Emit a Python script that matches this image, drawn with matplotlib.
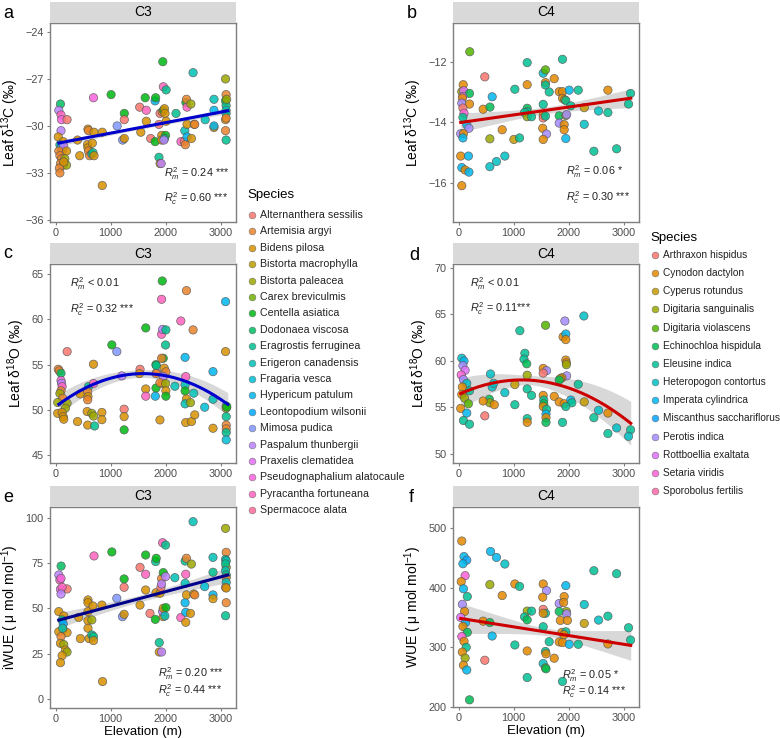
import numpy as np
import matplotlib
matplotlib.use("Agg")
import matplotlib.pyplot as plt
from matplotlib.patches import Rectangle

plt.rcParams['font.family'] = ['Liberation Sans', 'DejaVu Sans']
plt.rcParams['mathtext.fontset'] = 'custom'
plt.rcParams['mathtext.rm'] = 'Liberation Sans'
plt.rcParams['mathtext.it'] = 'Liberation Sans:italic'

# ---------------- species ----------------
species_c3 = ["Alternanthera sessilis", "Artemisia argyi", "Bidens pilosa", "Bistorta macrophylla",
              "Bistorta paleacea", "Carex breviculmis", "Centella asiatica", "Dodonaea viscosa",
              "Eragrostis ferruginea", "Erigeron canadensis", "Fragaria vesca", "Hypericum patulum",
              "Leontopodium wilsonii", "Mimosa pudica", "Paspalum thunbergii", "Praxelis clematidea",
              "Pseudognaphalium alatocaule", "Pyracantha fortuneana", "Spermacoce alata"]
species_c4 = ["Arthraxon hispidus", "Cynodon dactylon", "Cyperus rotundus", "Digitaria sanguinalis",
              "Digitaria violascens", "Echinochloa hispidula", "Eleusine indica", "Heteropogon contortus",
              "Imperata cylindrica", "Miscanthus sacchariflorus", "Perotis indica", "Rottboellia exaltata",
              "Setaria viridis", "Sporobolus fertilis"]

# ---------------- panel a: C3 leaf d13C ----------------
elev_a = [90, 60, 100, 110, 210, 100, 50, 140, 80, 100, 120, 150, 60, 200, 80, 110, 170, 90, 140, 200, 70, 80, 150,
          440, 400, 590, 600, 580, 590, 600, 620, 660, 680, 700, 670, 690, 700, 850, 850, 1010, 1120, 1220, 1250,
          1250, 1250, 1530, 1550, 1630, 1650, 1650, 1730, 1810, 1810, 1820, 1880, 1900, 1920, 1880, 1900, 1940,
          1930, 1930, 1950, 1960, 1960, 1980, 1990, 2000, 1980, 2010, 2010, 1970, 2190, 2280, 2340, 2350, 2360,
          2370, 2380, 2390, 2390, 2390, 2460, 2470, 2500, 2520, 2530, 2720, 2880, 2880, 2880, 2880, 3090, 3100,
          3090, 3100, 3100, 3100, 3090, 3100, 3090, 3100, 3110]
val_a = [-28.6, -29.0, -29.3, -29.6, -29.6, -30.3, -30.7, -31.0, -31.2, -31.4, -31.6, -31.3, -31.6, -31.6, -31.9,
         -32.1, -32.1, -32.4, -32.5, -32.5, -32.7, -33.0, -32.3, -31.9, -30.9, -30.2, -30.3, -31.2, -31.4, -31.6,
         -31.9, -31.8, -31.7, -31.9, -31.1, -28.2, -30.4, -30.4, -33.8, -28.0, -30.0, -30.9, -29.2, -29.6, -30.8,
         -28.8, -30.4, -28.2, -29.0, -29.7, -30.8, -31.0, -28.4, -28.2, -32.0, -32.4, -32.4, -29.9, -29.2, -29.1,
         -30.6, -30.9, -25.9, -27.5, -29.0, -28.9, -29.2, -30.6, -30.8, -27.7, -29.7, -30.9, -29.2, -31.0, -31.0,
         -30.3, -31.2, -28.5, -28.3, -29.9, -30.7, -28.8, -28.6, -30.8, -26.6, -29.9, -29.9, -29.6, -28.3, -29.0,
         -30.1, -30.0, -27.0, -28.0, -28.4, -28.7, -29.0, -29.2, -29.6, -29.5, -30.3, -30.9, -28.3]
sp_a = [7, 14, 17, 16, 0, 14, 2, 2, 8, 12, 1, 14, 1, 2, 1, 1, 4, 1, 1, 4, 1, 1, 2,
        2, 2, 2, 1, 2, 2, 1, 1, 8, 8, 2, 2, 16, 2, 2, 2, 6, 13, 13, 6,
        0, 2, 0, 2, 6, 17, 2, 0, 6, 11, 6, 8, 2, 14, 0, 0, 1,
        2, 2, 6, 17, 6, 2, 2, 6, 8, 8, 2, 14, 8, 17, 0, 9, 1,
        6, 1, 2, 11, 17, 4, 2, 9, 2, 1, 9, 9, 11, 2, 11, 4, 1,
        6, 8, 9, 8, 2, 1, 1, 8, 4]

# ---------------- panel b: C4 leaf d13C ----------------
elev_b = [205, 85, 60, 95, 200, 80, 70, 60, 200, 80, 100, 80, 150, 190, 40, 90, 80, 40, 180, 60, 120, 190, 60,
          478, 612, 448, 572, 794, 570, 842, 690, 570, 1024, 1006, 1109, 1248, 1248, 1248, 1248, 1200, 1248, 1327,
          1539, 1580, 1580, 1580, 1648, 1739, 1539, 1539, 1539, 1580, 1530, 1600, 1539, 1830, 1890, 1890, 1930,
          1950, 1890, 2012, 2176, 2040, 1830, 1830, 1920, 1920, 1950, 1965, 1950, 2285, 2285, 2545, 2715, 2715,
          2460, 2873, 3127, 3090]
val_b = [-11.67, -12.76, -12.99, -12.96, -13.05, -13.15, -13.2, -13.37, -13.4, -13.53, -13.7, -13.84, -14.08, -14.2,
         -14.38, -14.38, -14.52, -15.12, -15.12, -15.5, -15.58, -15.65, -16.1, -12.5, -13.16, -13.57, -13.5, -14.25,
         -14.55, -15.12, -15.3, -15.47, -12.91, -14.57, -14.52, -12.03, -12.76, -13.54, -13.65, -13.68, -13.82,
         -13.82, -12.38, -12.27, -12.69, -12.77, -13.0, -12.56, -13.41, -13.77, -13.86, -13.8, -14.2, -14.39,
         -14.57, -12.99, -12.99, -13.21, -13.26, -13.28, -11.92, -12.94, -12.94, -13.46, -13.79, -14.03, -14.08,
         -14.25, -13.78, -13.75, -14.54, -13.52, -14.07, -13.63, -12.94, -13.68, -14.96, -14.88, -13.05, -13.4]
sp_b = [4, 1, 3, 11, 5, 11, 1, 10, 1, 0, 12, 6, 8, 10, 10, 1, 8, 1, 8, 8, 1, 8, 1,
        0, 8, 1, 5, 1, 3, 7, 7, 7, 6, 2, 6, 6, 1, 5, 6, 6, 3, 6,
        7, 4, 1, 6, 6, 1, 6, 1, 0, 6, 1, 10, 1, 1, 1, 1, 1,
        6, 6, 8, 6, 6, 5, 10, 1, 1, 3, 10, 8, 2, 7, 7, 1, 6,
        6, 6, 6, 6]

# ---------------- panel c: C3 leaf d18O ----------------
elev_c = [211, 50, 70, 100, 100, 110, 120, 100, 80, 130, 40, 210, 180, 40, 120, 140, 150, 400, 450, 600, 585, 590,
          585, 575, 585, 690, 690, 660, 690, 710, 843, 843, 1024, 1114, 1205, 1247, 1247, 1247, 1536, 1525, 1640,
          1640, 1640, 1838, 1826, 1826, 1814, 1826, 1830, 1898, 1940, 1928, 1928, 1946, 1958, 1928, 1976, 2006,
          1940, 1958, 1898, 2006, 2000, 2000, 2006, 2006, 2169, 2277, 2355, 2367, 2355, 2355, 2380, 2355, 2367,
          2380, 2452, 2470, 2500, 2512, 2530, 2711, 2862, 2862, 2862, 3090, 3090, 3102, 3102, 3114, 3102, 3102,
          3102, 3102, 3102]
val_c = [56.44, 54.48, 54.3, 54.04, 53.23, 52.93, 52.56, 52.1, 51.8, 51.27, 50.8, 50.72, 50.17, 49.6, 49.7, 49.24,
         48.95, 48.69, 51.75, 52.56, 52.0, 51.45, 51.1, 49.8, 48.3, 55.04, 52.9, 49.6, 49.3, 48.2, 49.7, 48.9, 57.18,
         56.44, 53.75, 50.06, 49.24, 47.77, 54.48, 54.0, 52.3, 51.5, 59.06, 54.1, 54.0, 52.4, 51.5, 55.0, 54.9,
         48.87, 64.26, 62.23, 58.36, 58.9, 55.7, 55.7, 54.6, 54.2, 52.9, 53.67, 53.0, 58.84, 57.17, 52.9, 52.1,
         51.5, 52.6, 59.83, 55.8, 53.67, 52.75, 52.08, 51.2, 50.65, 48.58, 63.19, 50.79, 48.69, 58.84, 51.83, 49.43,
         50.28, 51.16, 54.22, 47.95, 61.97, 56.44, 50.42, 50.17, 50.3, 49.24, 48.3, 47.88, 47.47, 46.66]
sp_c = [0, 1, 1, 7, 16, 14, 17, 1, 4, 1, 4, 4, 4, 2, 2, 2, 2, 2, 2, 8, 1, 2,
        1, 2, 2, 2, 17, 4, 4, 8, 2, 2, 6, 13, 14, 0, 2, 6, 0, 2, 2,
        17, 6, 0, 1, 6, 11, 6, 8, 2, 6, 17, 17, 14, 6, 1, 2, 1,
        2, 14, 1, 8, 8, 4, 2, 6, 9, 17, 11, 17, 9, 6, 2, 9, 2,
        1, 4, 2, 1, 9, 2, 10, 9, 11, 2, 11, 2, 8, 4, 6, 8, 1,
        1, 8, 10]

# ---------------- panel d: C4 leaf d18O ----------------
elev_d = [60, 100, 80, 120, 50, 90, 150, 70, 200, 60, 110, 180, 40, 150, 90, 200,
          2278, 1933, 1582, 1115, 1900, 1950, 1950, 1206, 1190, 1240, 1950, 1960, 1960, 1539, 1600, 1539, 1248,
          1965, 1880, 1850, 1830, 582, 612, 640, 1024, 842, 1248, 1327, 1024, 560, 570, 650, 448, 478, 1539, 1550,
          1550, 1540, 1600, 1590, 1590, 1590, 1739, 1830, 1920, 2040, 2060, 1950, 1248, 1248, 1890, 2176, 2285,
          2545, 2715, 2460, 2715, 2873, 3127, 3090]
val_d = [60.3, 60.0, 59.5, 59.0, 58.5, 58.0, 57.6, 57.2, 56.8, 56.4, 56.0, 55.4, 54.9, 54.4, 53.6, 53.2,
         64.84, 64.3, 63.84, 63.26, 62.6, 62.9, 62.3, 60.83, 60.2, 59.7, 60.1, 59.8, 59.6, 59.2, 58.96, 58.7, 58.47,
         58.4, 58.2, 58.1, 57.95, 58.6, 57.2, 57.6, 57.46, 56.6, 57.0, 56.3, 55.3, 55.9, 55.5, 55.3, 55.7, 54.1,
         56.3, 55.8, 55.4, 55.1, 54.8, 54.3, 53.9, 53.4, 56.2, 55.6, 55.4, 55.8, 55.5, 55.1, 53.8, 53.4, 53.4,
         57.5, 55.6, 54.7, 54.4, 53.9, 52.2, 52.8, 52.6, 51.9]
sp_d = [7, 8, 10, 11, 12, 10, 7, 1, 6, 1, 3, 4, 1, 8, 6, 6,
        7, 10, 4, 6, 1, 8, 1, 6, 6, 5, 1, 1, 3, 1, 10, 0, 3,
        10, 1, 2, 5, 7, 7, 7, 2, 7, 6, 6, 6, 5, 3, 1, 1, 0, 1, 6,
        5, 1, 6, 8, 1, 5, 1, 1, 1, 8, 6, 6, 6, 1, 6, 6, 2,
        7, 1, 6, 6, 7, 6, 7]

# ---------------- panel e: C3 iWUE ----------------
elev_e = [102, 60, 80, 100, 211, 90, 120, 100, 60, 150, 120, 140, 140, 60, 210, 100, 90, 150, 180, 210, 120, 90,
          130, 422, 452, 590, 590, 590, 590, 590, 610, 680, 660, 660, 690, 690, 700, 843, 855, 1024, 1114, 1217,
          1247, 1247, 1247, 1536, 1536, 1638, 1638, 1638, 1717, 1820, 1830, 1826, 1814, 1885, 1885, 1928, 1898,
          1916, 1928, 1928, 1946, 1958, 1958, 1946, 1958, 2000, 2006, 1988, 2000, 2169, 2277, 2355, 2380, 2367,
          2355, 2355, 2367, 2367, 2380, 2470, 2452, 2500, 2512, 2530, 2711, 2862, 2862, 2862, 2862, 3090, 3102,
          3090, 3102, 3102, 3090, 3090, 3102, 3102, 3102, 3090, 3102, 3102, 3090]
val_e = [73.3, 68.4, 65.6, 66.5, 60.7, 60.5, 61.6, 57.9, 48.2, 45.8, 43.6, 41.4, 38.4, 37.1, 36.6, 34.4, 30.7, 30.0,
         27.0, 25.9, 23.9, 20.0, 39.0, 45.0, 33.3, 54.6, 53.1, 48.2, 43.2, 39.0, 33.3, 51.3, 43.6, 35.3, 34.4, 32.2,
         78.9, 51.8, 9.6, 81.1, 55.5, 45.4, 66.2, 61.6, 46.7, 72.6, 51.8, 79.4, 68.8, 60.1, 47.2, 75.8, 77.6, 58.6,
         43.9, 31.1, 25.9, 25.9, 58.3, 61.6, 66.4, 63.4, 86.2, 69.7, 45.4, 48.2, 50.0, 84.9, 50.4, 45.8, 67.5, 66.9,
         44.9, 76.1, 77.6, 68.8, 63.8, 53.1, 47.8, 42.3, 57.4, 74.4, 47.2, 97.8, 57.9, 57.4, 62.0, 78.1, 69.9, 57.4,
         55.3, 94.1, 80.9, 77.0, 76.2, 72.6, 74.5, 70.8, 68.4, 66.9, 64.3, 61.6, 61.2, 53.1, 45.9]
sp_e = [7, 14, 17, 16, 0, 16, 17, 14, 2, 2, 8, 12, 2, 2, 2, 1, 2, 4, 2, 4, 2, 2,
        9, 2, 2, 2, 2, 2, 2, 2, 2, 2, 4, 8, 8, 2, 17, 2, 2, 6, 13, 13,
        6, 0, 2, 0, 2, 6, 17, 2, 0, 8, 6, 2, 6, 8, 2, 14, 2,
        0, 1, 14, 17, 6, 2, 14, 2, 8, 6, 9, 14, 9, 17, 8, 1, 17,
        9, 11, 11, 2, 2, 4, 2, 9, 2, 1, 10, 9, 8, 11, 2, 4, 1,
        8, 9, 4, 8, 9, 8, 1, 9, 1, 2, 1, 8]

# ---------------- panel f: C4 WUE ----------------
elev_f = [60, 100, 150, 80, 120, 50, 90, 160, 70, 110, 40, 130, 80, 160, 60, 100, 140, 70, 120, 90, 150, 200,
          582, 690, 842, 570, 794, 448, 570, 612, 478, 1024, 1109, 1024, 1248, 1327, 1200, 1248, 1248, 1248, 1539,
          1600, 1530, 1539, 1580, 1539, 1539, 1580, 1590, 1539, 1580, 1590, 1648, 1739, 1830, 1950, 1920, 1910,
          1960, 1830, 1965, 1850, 1980, 1880, 1950, 1915, 1830, 1890, 2012, 2176, 2285, 2285, 2460, 2873, 2545,
          2715, 2715, 3090, 3127, 1890]
val_f = [478, 452, 446, 440, 420, 410, 398, 385, 372, 360, 350, 342, 335, 325, 318, 310, 300, 292, 282, 270, 262,
         212, 460.5, 450.5, 439.5, 405, 386.7, 343.8, 341.5, 318.9, 278.3, 406.1, 402, 303.9, 360.6, 360.6, 351,
         346, 293.9, 249.4, 406.1, 395, 383.9, 363.5, 357, 357, 334.4, 293, 289, 272.8, 265.6, 264, 309.4, 281.7,
         373.3, 403.3, 385, 375, 360, 360, 356, 345, 345, 325, 326, 321, 309, 308, 305, 305, 371.7, 340, 428.3,
         423.3, 345.6, 352.2, 305.6, 332.8, 312.2, 242.8]
sp_f = [1, 8, 9, 8, 12, 1, 8, 6, 10, 1, 11, 8, 1, 5, 12, 1, 6, 1, 3, 1, 8, 5,
        8, 8, 7, 3, 1, 1, 5, 8, 0, 1, 6, 6, 3, 6, 6, 5, 1, 6, 1,
        10, 1, 0, 6, 1, 6, 6, 1, 7, 4, 5, 6, 1, 10, 8, 1, 1,
        3, 5, 10, 1, 1, 1, 6, 1, 1, 1, 8, 6, 7, 2, 6, 6, 7,
        6, 1, 6, 6, 6]

# ---------------- fitted model curves (coefficients of mixed model fits) ----------------
# y = c0 + c1*x + c2*x^2 ; band half-width = sqrt(s0 + s1*(x - xc)^2)
fit_a = dict(c=(-31.13, 6.7e-4, 0.0), band=(0.012, 1.0e-8, 1600), col='#0000CC')
fit_b = dict(c=(-14.02, 2.6e-4, 0.0), band=(0.012, 3.6e-8, 1600), col='#CC0000')
fit_c = dict(c=(50.33, 4.603e-3, -1.443e-6), band=(0.18, 5.5e-7, 1500), col='#0000CC')
fit_d = dict(c=(56.39, 2.737e-3, -1.19e-6), band=(0.25, 1.6e-6, 1300), col='#CC0000')
fit_e = dict(c=(43.0, 8.1e-3, 0.0), band=(3.5, 6.0e-6, 1600), col='#00008B')
fit_f = dict(c=(348.9, -1.46e-2, 0.0), band=(40.0, 2.5e-4, 1600), col='#CC0000')
fit_range_c3 = (60, 3130)
fit_range_c4 = (40, 3130)

# ---------------- helpers ----------------
def hcl_to_rgb(h, c=100.0, l=65.0):
    hr = np.deg2rad(h)
    u = c * np.cos(hr)
    v = c * np.sin(hr)
    Xn, Yn, Zn = 95.047, 100.0, 108.883
    Y = Yn * ((l + 16) / 116) ** 3
    den = Xn + 15 * Yn + 3 * Zn
    un, vn = 4 * Xn / den, 9 * Yn / den
    up = u / (13 * l) + un
    vp = v / (13 * l) + vn
    X = 9 * Y * up / (4 * vp)
    Z = Y * (12 - 3 * up - 20 * vp) / (4 * vp)
    X, Y, Z = X / 100, Y / 100, Z / 100
    rgb = [3.2404542 * X - 1.5371385 * Y - 0.4985314 * Z,
           -0.9692660 * X + 1.8760108 * Y + 0.0415560 * Z,
           0.0556434 * X - 0.2040259 * Y + 1.0572252 * Z]
    out = []
    for ch in rgb:
        ch = 12.92 * ch if ch <= 0.0031308 else 1.055 * ch ** (1 / 2.4) - 0.055
        out.append(min(max(ch, 0), 1))
    return tuple(out)

def hue_pal(n):
    hs = np.linspace(15, 375, n + 1)[:-1]
    return [hcl_to_rgb(h) for h in hs]

pal_c3 = hue_pal(len(species_c3))
pal_c4 = hue_pal(len(species_c4))

W, H = 780, 738
fig = plt.figure(figsize=(W / 100, H / 100), dpi=100)

def add_ax(l, t, r, b):
    return fig.add_axes([l / W, 1 - b / H, (r - l) / W, (b - t) / H])

GRAY = '#7F7F7F'
TXT = '#4D4D4D'

def panel(box, elev, val, sp, pal, fit, frange, ylim, yticks, ylabel, strip, letter, notes, xlabel=False):
    l, t, r, b = box
    ax = add_ax(l, t, r, b)
    cols = [pal[i] for i in sp]
    ax.scatter(elev, val, s=36, c=cols, edgecolors='#555555', linewidths=0.5, alpha=0.85, zorder=3)
    xs = np.linspace(frange[0], frange[1], 200)
    c0, c1, c2 = fit['c']
    ys = c0 + c1 * xs + c2 * xs ** 2
    s0, s1, xc = fit['band']
    hw = np.sqrt(s0 + s1 * (xs - xc) ** 2)
    ax.fill_between(xs, ys - hw, ys + hw, color='#BEBEBE', alpha=0.6, lw=0, zorder=2)
    ax.plot(xs, ys, color=fit['col'], lw=2.2, zorder=4)
    ax.set_xlim(-100, 3280)
    ax.set_ylim(*ylim)
    ax.set_xticks([0, 1000, 2000, 3000])
    ax.set_yticks(yticks)
    for s in ax.spines.values():
        s.set_color(GRAY)
        s.set_linewidth(1.0)
    ax.tick_params(direction='out', length=2.5, width=0.8, color=GRAY, labelcolor=TXT, labelsize=7.8, pad=2)
    ax.set_ylabel(ylabel, fontsize=10, color='black', labelpad=3)
    if xlabel:
        ax.set_xlabel('Elevation (m)', fontsize=9.5, color='black', labelpad=1)
    # strip
    sh = 21
    fig.patches.append(Rectangle((l / W, 1 - t / H), (r - l) / W, sh / H, transform=fig.transFigure,
                                 facecolor='#D9D9D9', edgecolor='none', zorder=0))
    fig.text((l + r) / 2 / W, 1 - (t - sh / 2) / H, strip, ha='center', va='center', fontsize=10)
    fig.text(letter[1] / W, 1 - letter[2] / H, letter[0], ha='left', va='center', fontsize=13)
    for (nx, ny, txt) in notes:
        fig.text(nx / W, 1 - ny / H, txt, ha='left', va='center', fontsize=7.8, color='#222222')
    return ax

panel((50, 23, 236, 222), elev_a, val_a, sp_a, pal_c3, fit_a, fit_range_c3, (-36.13, -23.43),
      [-36, -33, -30, -27, -24], 'Leaf δ$^{13}$C (‰)', 'C3', ('a', 3, 13),
      [(164, 174, '$R^2_m$ = 0.24 ***'), (164, 199, '$R^2_c$ = 0.60 ***')])
panel((453, 23, 639, 222), elev_b, val_b, sp_b, pal_c4, fit_b, fit_range_c4, (-17.3, -10.72),
      [-16, -14, -12], 'Leaf δ$^{13}$C (‰)', 'C4', ('b', 407, 14),
      [(566, 172, '$R^2_m$ = 0.06 *'), (566, 198, '$R^2_c$ = 0.30 ***')])
panel((50, 264, 236, 463), elev_c, val_c, sp_c, pal_c3, fit_c, fit_range_c3, (44.1, 66.14),
      [45, 50, 55, 60, 65], 'Leaf δ$^{18}$O (‰)', 'C3', ('c', 3, 253),
      [(70, 284, '$R^2_m$ < 0.01'), (70, 310, '$R^2_c$ = 0.32 ***')])
panel((453, 264, 639, 463), elev_d, val_d, sp_d, pal_c4, fit_d, fit_range_c4, (49.03, 70.43),
      [50, 55, 60, 65, 70], 'Leaf δ$^{18}$O (‰)', 'C4', ('d', 409, 256),
      [(470, 284, '$R^2_m$ < 0.01'), (470, 309, '$R^2_c$ = 0.11***')])
panel((50, 507, 236, 708), elev_e, val_e, sp_e, pal_c3, fit_e, fit_range_c3, (-5.0, 105.9),
      [0, 25, 50, 75, 100], 'iWUE ( μ mol mol$^{-1}$)', 'C3', ('e', 3, 497),
      [(158, 674, '$R^2_m$ = 0.20 ***'), (158, 691, '$R^2_c$ = 0.44 ***')], xlabel=True)
panel((453, 507, 639, 707), elev_f, val_f, sp_f, pal_c4, fit_f, fit_range_c4, (200, 535),
      [200, 300, 400, 500], 'WUE ( μ mol mol$^{-1}$)', 'C4', ('f', 409, 497),
      [(562, 676, '$R^2_m$ = 0.05 *'), (562, 692, '$R^2_c$ = 0.14 ***')], xlabel=True)

# ---------------- legends ----------------
lax = fig.add_axes([0, 0, 1, 1], zorder=-1)
lax.set_xlim(0, W)
lax.set_ylim(H, 0)
lax.axis('off')

def legend(x, ytitle, y0, dy, names, pal, fs):
    lax.text(x, ytitle, 'Species', fontsize=9.5, ha='left', va='center')
    for i, (nm, col) in enumerate(zip(names, pal)):
        y = y0 + i * dy
        lax.scatter([x + 5], [y], s=24, color=col, edgecolors='#666666', linewidths=0.4, alpha=0.85)
        lax.text(x + 13, y, nm, fontsize=fs, ha='left', va='center', color='#222222')

legend(247, 195, 215, 16.4, species_c3, pal_c3, 7.7)
legend(650, 238, 255, 18.15, species_c4, pal_c4, 7.3)

fig.savefig('out.png', dpi=100)
